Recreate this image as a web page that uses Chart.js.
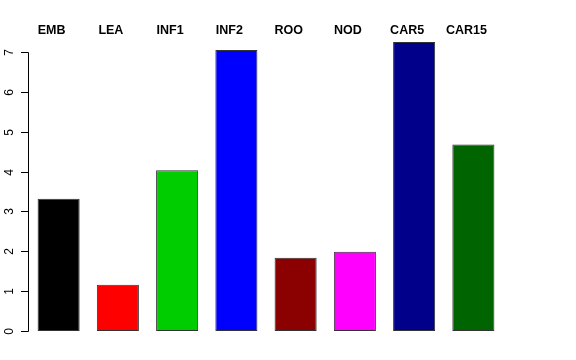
<!DOCTYPE html>
<html>
<head>
<meta charset="utf-8">
<script src="https://cdn.jsdelivr.net/npm/chart.js@4"></script>
<style>
  html, body { margin: 0; padding: 0; background: #fff; }
  #wrap { width: 576px; height: 360px; }
</style>
</head>
<body>
<div id="wrap"><canvas id="bars"></canvas></div>
<script>
// datos
const samples = ["EMB", "LEA", "INF1", "INF2", "ROO", "NOD", "CAR5", "CAR15"];
const heights = [3.32, 1.16, 4.03, 7.05, 1.84, 1.99, 7.25, 4.68];
const barColors = ["#000000", "#FF0000", "#00CD00", "#0000FF", "#8B0000", "#FF00FF", "#00008B", "#006400"];
const yTicks = [0, 1, 2, 3, 4, 5, 6, 7];

const ctx = document.getElementById("bars").getContext('2d');

// eje y estilo R: linea solo de 0 a 7, etiquetas giradas
const rAxis = {
    id: 'rAxis',
    afterDraw(chart) {
        const c = chart.ctx;
        const y = chart.scales.y;
        const x0 = 28;
        c.save();
        c.strokeStyle = '#000';
        c.lineWidth = 1;
        c.beginPath();
        c.moveTo(x0 + 0.5, Math.round(y.getPixelForValue(yTicks[0])) + 0.5);
        c.lineTo(x0 + 0.5, Math.round(y.getPixelForValue(yTicks[yTicks.length - 1])) + 0.5);
        c.stroke();
        c.font = '12px "Liberation Sans", Arial, sans-serif';
        c.fillStyle = '#000';
        c.textAlign = 'center';
        c.textBaseline = 'middle';
        yTicks.forEach(t => {
            const py = Math.round(y.getPixelForValue(t)) + 0.5;
            c.beginPath();
            c.moveTo(x0 - 7, py);
            c.lineTo(x0 + 0.5, py);
            c.stroke();
            c.save();
            c.translate(10, py);
            c.rotate(-Math.PI / 2);
            c.fillText(String(t), 0, 0);
            c.restore();
        });
        // nombres arriba de cada barra
        const xs = chart.scales.x;
        c.font = 'bold 12.5px "Liberation Sans", Arial, sans-serif';
        c.textBaseline = 'alphabetic';
        samples.forEach((s, i) => {
            c.fillText(s, xs.getPixelForValue(i) - 7, 34);
        });
        c.restore();
    }
};

const chart = new Chart(ctx, {
    type: 'bar',
    data: {
        labels: samples,
        datasets: [{
            data: heights,
            backgroundColor: barColors,
            borderColor: '#333333',
            borderWidth: 1,
            borderSkipped: false,
            categoryPercentage: 1,
            barPercentage: 0.71
        }]
    },
    options: {
        responsive: true,
        maintainAspectRatio: false,
        animation: false,
        layout: { padding: { left: 29, right: 73, top: 28, bottom: 29 } },
        plugins: { legend: { display: false }, tooltip: { enabled: false } },
        scales: {
            x: { display: false },
            y: { display: false, min: 0, max: 7.6 }
        }
    },
    plugins: [rAxis]
});
</script>
</body>
</html>
